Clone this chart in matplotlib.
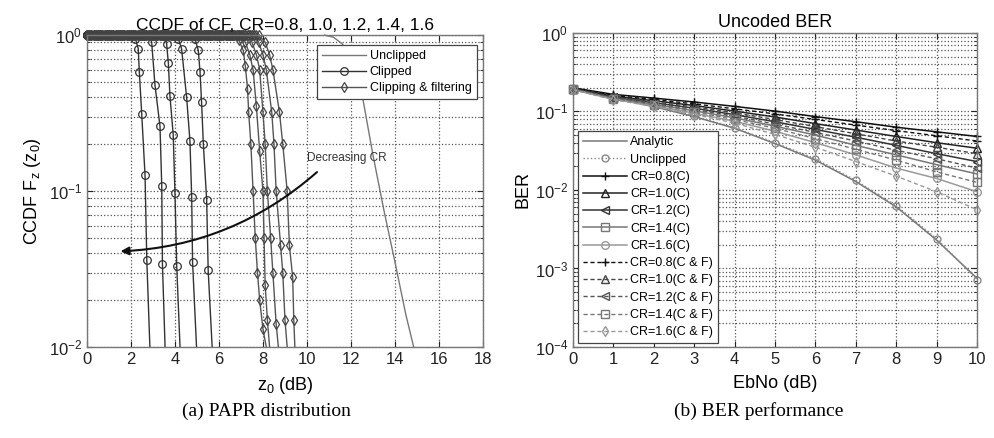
import matplotlib
matplotlib.use("Agg")
import matplotlib.pyplot as plt
from matplotlib.ticker import LogLocator, NullFormatter, MultipleLocator

plt.rcParams['font.family'] = ['Liberation Sans', 'DejaVu Sans']
plt.rcParams['mathtext.fontset'] = 'custom'
plt.rcParams['mathtext.rm'] = 'Liberation Sans'
plt.rcParams['mathtext.it'] = 'Liberation Sans'
plt.rcParams['mathtext.default'] = 'regular'

# ---------------- data: (a) PAPR distribution ----------------
# sample points where every curve still sits at CCDF = 1
z_flat = [0.0, 0.1, 0.2, 0.3, 0.4, 0.5, 0.6, 0.7, 0.8, 0.9,
          1.0, 1.1, 1.2, 1.3, 1.4, 1.5, 1.6, 1.7, 1.8, 1.9,
          2.0, 2.1, 2.2, 2.3, 2.4, 2.5, 2.6, 2.7, 2.8, 2.9,
          3.0, 3.1, 3.2, 3.3, 3.4, 3.5, 3.6, 3.7, 3.8, 3.9,
          4.0, 4.1, 4.2, 4.3, 4.4, 4.5, 4.6, 4.7, 4.8, 4.9,
          5.0, 5.1, 5.2, 5.3, 5.4, 5.5, 5.6, 5.7, 5.8, 5.9,
          6.0, 6.1, 6.2, 6.3, 6.4, 6.5, 6.6, 6.7, 6.8, 6.9,
          7.0, 7.1, 7.2, 7.3, 7.4, 7.5, 7.6, 7.7, 7.8]

unclip_z = [10.8, 11.2, 11.6, 12.0, 12.5, 13.0, 13.5, 14.0, 14.5, 14.85]
unclip_F = [1.0, 0.97, 0.88, 0.7, 0.42, 0.17, 0.075, 0.035, 0.016, 0.01]

# clipped, CR = 0.8 ... 1.6  (drop part only; flat at 1.0 before)
clip_z = [
    [2.2, 2.33, 2.38, 2.49, 2.64, 2.72, 2.86],
    [2.94, 3.09, 3.32, 3.40, 3.43, 3.55],
    [3.62, 3.70, 3.77, 3.92, 4.00, 4.08, 4.23],
    [4.15, 4.30, 4.53, 4.68, 4.76, 4.80, 4.98],
    [4.90, 5.06, 5.14, 5.21, 5.29, 5.44, 5.51, 5.69],
]
clip_F = [
    [0.95, 0.82, 0.58, 0.31, 0.126, 0.036, 0.01],
    [0.905, 0.48, 0.26, 0.107, 0.034, 0.01],
    [0.88, 0.66, 0.41, 0.23, 0.097, 0.033, 0.01],
    [0.95, 0.82, 0.40, 0.21, 0.092, 0.035, 0.01],
    [0.95, 0.80, 0.58, 0.37, 0.20, 0.088, 0.031, 0.01],
]

# clipping & filtering, CR = 0.8 ... 1.6
cf_z = [
    [6.9, 7.1, 7.2, 7.3, 7.35, 7.45, 7.55, 7.65, 7.75, 7.85, 8.0, 8.15],
    [7.2, 7.4, 7.55, 7.7, 7.85, 8.0, 8.05, 8.1, 8.2, 8.3],
    [7.5, 7.7, 7.85, 8.0, 8.1, 8.2, 8.35, 8.45, 8.6, 8.7],
    [7.8, 8.0, 8.15, 8.4, 8.5, 8.6, 8.8, 8.9, 9.0, 9.1],
    [8.1, 8.3, 8.45, 8.75, 8.9, 9.1, 9.2, 9.35, 9.4, 9.45],
]
cf_F = [
    [0.93, 0.8, 0.63, 0.45, 0.32, 0.2, 0.1, 0.05, 0.03, 0.02, 0.013, 0.01],
    [0.9, 0.75, 0.6, 0.35, 0.18, 0.1, 0.05, 0.025, 0.015, 0.01],
    [0.9, 0.75, 0.6, 0.32, 0.2, 0.1, 0.05, 0.03, 0.014, 0.01],
    [0.9, 0.75, 0.6, 0.32, 0.2, 0.1, 0.045, 0.03, 0.015, 0.01],
    [0.9, 0.75, 0.6, 0.32, 0.2, 0.1, 0.045, 0.028, 0.015, 0.01],
]
cf_flat_end = [6.7, 7.0, 7.3, 7.6, 7.8]

# ---------------- data: (b) BER performance ----------------
ebno = [0, 1, 2, 3, 4, 5, 6, 7, 8, 9, 10]
ber_analytic = [0.188, 0.147, 0.115, 0.086, 0.061, 0.039, 0.024, 0.0128, 0.0061, 0.0023, 0.00075]
ber_unclipped = [0.19, 0.15, 0.117, 0.088, 0.062, 0.040, 0.025, 0.0132, 0.0063, 0.0024, 0.00072]
cr_labels = ['0.8', '1.0', '1.2', '1.4', '1.6']
ber_clip = [
    [0.200, 0.165, 0.148, 0.132, 0.116, 0.101, 0.086, 0.074, 0.063, 0.055, 0.048],
    [0.196, 0.156, 0.137, 0.119, 0.101, 0.085, 0.070, 0.058, 0.048, 0.040, 0.034],
    [0.194, 0.151, 0.129, 0.110, 0.091, 0.074, 0.059, 0.047, 0.037, 0.029, 0.023],
    [0.192, 0.147, 0.123, 0.102, 0.083, 0.065, 0.050, 0.037, 0.028, 0.021, 0.016],
    [0.190, 0.143, 0.118, 0.095, 0.075, 0.056, 0.040, 0.028, 0.019, 0.014, 0.0095],
]
ber_cf = [
    [0.198, 0.160, 0.142, 0.125, 0.108, 0.093, 0.079, 0.067, 0.057, 0.049, 0.042],
    [0.195, 0.153, 0.133, 0.114, 0.096, 0.079, 0.064, 0.052, 0.042, 0.035, 0.029],
    [0.193, 0.149, 0.126, 0.106, 0.087, 0.069, 0.054, 0.042, 0.032, 0.025, 0.019],
    [0.191, 0.145, 0.121, 0.099, 0.079, 0.061, 0.045, 0.033, 0.024, 0.017, 0.0125],
    [0.189, 0.141, 0.116, 0.092, 0.071, 0.051, 0.035, 0.023, 0.015, 0.0095, 0.0056],
]

# ---------------- figure ----------------
fig = plt.figure(figsize=(9.95, 4.38), dpi=100)
axA = fig.add_axes([0.0874, 0.2078, 0.398, 0.712])
axB = fig.add_axes([0.5759, 0.2078, 0.406, 0.717])

grid_kw = dict(color='#555555', linestyle=':', linewidth=0.9)


def style_axes(ax):
    ax.set_yscale('log')
    ax.yaxis.set_major_locator(LogLocator(base=10, numticks=10))
    ax.yaxis.set_minor_locator(LogLocator(base=10, subs=range(2, 10), numticks=20))
    ax.yaxis.set_minor_formatter(NullFormatter())
    ax.grid(True, which='major', axis='both', **grid_kw)
    ax.grid(True, which='minor', axis='y', **grid_kw)
    ax.tick_params(which='both', direction='in', top=True, right=True,
                   labelsize=12, colors='#222222')
    ax.tick_params(which='major', length=4)
    ax.tick_params(which='minor', length=2)
    for s in ax.spines.values():
        s.set_color('#777777')
        s.set_linewidth(1.0)
    ax.set_axisbelow(True)


# ---- (a) ----
style_axes(axA)
axA.plot(unclip_z, unclip_F, color='#777777', lw=1.0, label='Unclipped', clip_on=False)
for i in range(5):
    zs = [z for z in z_flat if z < clip_z[i][0] - 0.1] + clip_z[i]
    Fs = [1.0] * (len(zs) - len(clip_z[i])) + clip_F[i]
    axA.plot(zs, Fs, color='#333333', lw=1.0, marker='o', ms=5.5, mfc='none',
             mec='#333333', mew=0.9, markevery=slice(0, len(zs) - 1),
             clip_on=False, label='Clipped' if i == 0 else None)
for i in range(5):
    zs = [z for z in z_flat if z <= cf_flat_end[i]] + cf_z[i]
    Fs = [1.0] * (len(zs) - len(cf_z[i])) + cf_F[i]
    axA.plot(zs, Fs, color='#555555', lw=1.0, marker='d', ms=5.5, mfc='none',
             mec='#444444', mew=0.9, markevery=slice(0, len(zs) - 1),
             clip_on=False, label='Clipping & filtering' if i == 0 else None)

axA.set_xlim(0, 18)
axA.set_ylim(1e-2, 1)
axA.xaxis.set_major_locator(MultipleLocator(2))
axA.set_title('CCDF of CF, CR=0.8, 1.0, 1.2, 1.4, 1.6', fontsize=12.5, pad=4)
axA.set_xlabel(r'z$_0$ (dB)', fontsize=13, labelpad=6)
axA.set_ylabel(r'CCDF F$_z$ (z$_0$)', fontsize=13, labelpad=4)
legA = axA.legend(loc='upper right', bbox_to_anchor=(0.99, 0.975), fontsize=9,
                  handlelength=3.5, frameon=True, fancybox=False, borderaxespad=0.2,
                  labelspacing=0.3, handletextpad=0.3, framealpha=1.0)
legA.get_frame().set_edgecolor('#444444')
legA.get_frame().set_linewidth(0.9)

axA.annotate('', xy=(1.4, 0.041), xytext=(10.55, 0.136),
             arrowprops=dict(arrowstyle='-|>', color='#111111', lw=1.5,
                             connectionstyle='arc3,rad=-0.18',
                             mutation_scale=12))
axA.text(10.0, 0.163, 'Decreasing CR', fontsize=8.5, color='#333333',
         ha='left', va='center')

# ---- (b) ----
style_axes(axB)
axB.plot(ebno, ber_analytic, color='#777777', lw=1.1, label='Analytic', clip_on=False)
axB.plot(ebno, ber_unclipped, color='#888888', lw=1.0, ls=':', marker='o', ms=5,
         mfc='none', mec='#888888', label='Unclipped', clip_on=False)
clip_markers = ['+', '^', '<', 's', 'o']
clip_colors = ['#111111', '#222222', '#333333', '#777777', '#999999']
cf_markers = ['+', '^', '<', 's', 'd']
cf_colors = ['#111111', '#444444', '#555555', '#777777', '#999999']
for i in range(5):
    axB.plot(ebno, ber_clip[i], color=clip_colors[i], lw=1.1, marker=clip_markers[i],
             ms=5.5, mfc='none', mec=clip_colors[i], mew=1.0,
             label='CR=%s(C)' % cr_labels[i], clip_on=False)
for i in range(5):
    axB.plot(ebno, ber_cf[i], color=cf_colors[i], lw=1.0, ls=(0, (3, 2)),
             marker=cf_markers[i], ms=5.5, mfc='none', mec=cf_colors[i], mew=1.0,
             label='CR=%s(C & F)' % cr_labels[i], clip_on=False)

axB.set_xlim(0, 10)
axB.set_ylim(1e-4, 1)
axB.xaxis.set_major_locator(MultipleLocator(1))
axB.set_title('Uncoded BER', fontsize=13, pad=4)
axB.set_xlabel('EbNo (dB)', fontsize=13, labelpad=6)
axB.set_ylabel('BER', fontsize=13, labelpad=2)
legB = axB.legend(loc='lower left', bbox_to_anchor=(0.012, 0.012), fontsize=9,
                  handlelength=3.5, frameon=True, fancybox=False, borderaxespad=0.0,
                  labelspacing=0.42, handletextpad=0.3, framealpha=1.0)
legB.get_frame().set_edgecolor('#444444')
legB.get_frame().set_linewidth(0.9)

# captions
fig.text(0.268, 0.04, '(a) PAPR distribution', family='Liberation Serif',
         fontsize=14, ha='center', va='bottom')
fig.text(0.762, 0.04, '(b) BER performance', family='Liberation Serif',
         fontsize=14, ha='center', va='bottom')

fig.savefig('out.png', dpi=100)
